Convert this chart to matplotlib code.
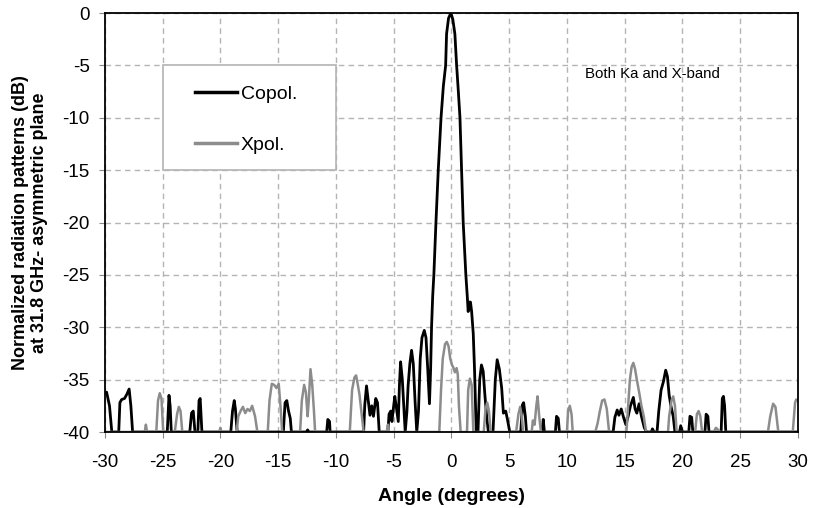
import matplotlib
matplotlib.use("Agg")
import matplotlib.pyplot as plt
import matplotlib.patches as patches

plt.rcParams['font.family'] = ['Liberation Sans', 'DejaVu Sans']
plt.rcParams['axes.unicode_minus'] = False

# Copol. pattern (angle in degrees, level in dB)
copol_angle = [
    -30.0, -29.85, -29.6, -29.4,
    -28.8, -28.7, -28.55, -28.3, -28.1, -27.9, -27.75, -27.6,
    -24.6, -24.45, -24.35, -24.25,
    -22.65, -22.5, -22.35, -22.2, -21.95, -21.85, -21.75, -21.6,
    -19.1, -18.95, -18.8, -18.7, -18.55,
    -14.55, -14.4, -14.25, -14.1, -13.95, -13.85,
    -12.55, -12.45, -12.35,
    -10.8, -10.7, -10.55, -10.5,
    -7.6, -7.5, -7.35, -7.2, -7.05, -6.9, -6.75, -6.55, -6.4, -6.25,
    -5.5, -5.4, -5.25, -5.15, -5.0, -4.9, -4.75, -4.6, -4.5, -4.4, -4.25, -4.1, -4.0,
    -3.85, -3.75, -3.6, -3.45, -3.3, -3.15, -3.0,
    -2.85, -2.7, -2.55, -2.35, -2.2, -2.05, -1.9, -1.8, -1.72, -1.62, -1.52,
    -1.34, -1.14, -0.9, -0.7, -0.5, -0.42, -0.25, -0.05, 0.12, 0.3, 0.45, 0.6,
    0.74, 0.88, 1.02, 1.25, 1.37, 1.45, 1.55, 1.65, 1.75, 1.89, 2.0, 2.15,
    2.3, 2.45, 2.6, 2.75, 2.9, 3.05, 3.2,
    3.6, 3.8, 3.96, 4.15, 4.35, 4.5, 4.7, 4.85, 5.05,
    6.0, 6.15, 6.25, 6.4, 6.5,
    7.85, 7.95, 8.05,
    9.0, 9.1, 9.25, 9.35,
    14.0, 14.15, 14.35, 14.5, 14.7, 14.9, 15.1, 15.3, 15.5, 15.75, 15.9, 16.05,
    16.25, 16.45, 16.7, 16.9,
    17.3, 17.4, 17.55,
    17.8, 17.95, 18.15, 18.35, 18.55, 18.7, 18.85, 19.0, 19.2, 19.35,
    19.75, 19.85, 20.0,
    20.55, 20.65, 20.8, 20.9,
    21.95, 22.05, 22.2, 22.3,
    23.35, 23.45, 23.55, 23.65, 23.75,
    30.0,
]
copol_db = [
    -36.3, -36.2, -37.5, -40,
    -40, -37.2, -36.9, -36.8, -36.4, -35.9, -37.5, -40,
    -40, -36.5, -37.5, -40,
    -40, -38.2, -38.0, -40, -40, -37.0, -36.8, -40,
    -40, -38.0, -37.0, -37.8, -40,
    -40, -37.2, -37.0, -38.0, -38.7, -40,
    -40, -39.8, -40,
    -40, -38.8, -39.0, -40,
    -40, -37.4, -35.6, -37.0, -38.4, -37.5, -38.5, -36.8, -37.2, -40,
    -40, -38.3, -38.0, -39.0, -37.5, -36.6, -37.8, -39.0, -35.5, -33.3, -35.0, -38.0, -40,
    -38.0, -35.6, -33.5, -32.2, -33.5, -37.0, -40,
    -38.0, -33.0, -31.0, -30.3, -31.0, -34.0, -37.3, -34.0, -30.0, -27.0, -25.0,
    -20.0, -15.0, -10.0, -7.0, -5.0, -2.0, -0.5, 0.0, -0.6, -2.0, -5.0, -7.5,
    -10.0, -15.0, -20.0, -25.0, -27.0, -28.5, -27.6, -27.6, -28.5, -30.6, -34.0, -40,
    -40, -35.0, -33.6, -34.2, -36.5, -38.5, -40,
    -40, -35.0, -33.1, -34.0, -35.8, -38.2, -38.0, -38.8, -40,
    -40, -37.4, -37.2, -38.5, -40,
    -40, -38.8, -40,
    -40, -38.5, -38.7, -40,
    -40, -38.6, -37.9, -38.4, -37.8, -38.6, -39.3, -38.5, -37.5, -36.7, -37.8, -38.2,
    -37.3, -38.5, -39.6, -40,
    -40, -39.7, -40,
    -40, -38.0, -36.0, -35.2, -34.1, -34.7, -36.5, -37.5, -38.5, -40,
    -40, -39.4, -40,
    -40, -38.5, -38.6, -40,
    -40, -38.3, -38.5, -40,
    -40, -36.8, -36.6, -37.5, -40,
    -40,
]

# Xpol. pattern
xpol_angle = [
    -30.0,
    -26.55, -26.45, -26.35,
    -25.55, -25.4, -25.25, -25.1, -24.95,
    -23.95, -23.75, -23.6, -23.45, -23.3,
    -20.1, -20.0, -19.9,
    -18.6, -18.45, -18.25, -18.05, -17.85, -17.65, -17.45, -17.25, -17.0, -16.8,
    -15.9, -15.75, -15.55, -15.35, -15.15, -14.95, -14.8, -14.65,
    -13.1, -12.95, -12.75, -12.6, -12.45, -12.35, -12.2, -12.05, -11.9, -11.8,
    -8.8, -8.6, -8.4, -8.25, -8.1, -7.95, -7.8, -7.6,
    -5.6, -5.5, -5.4,
    -1.05, -0.9, -0.75, -0.55, -0.4, -0.25, -0.1, 0.05, 0.15, 0.3, 0.45, 0.55, 0.65, 0.8,
    1.35, 1.45, 1.6, 1.75, 1.9,
    2.8, 2.95, 3.1, 3.25, 3.4,
    5.6, 5.8, 5.95, 6.1, 6.2,
    6.95, 7.05, 7.2, 7.35, 7.46, 7.6, 7.75,
    10.0, 10.1, 10.25, 10.4, 10.5,
    12.45, 12.65, 12.85, 13.05, 13.25, 13.45, 13.65,
    15.15, 15.3, 15.45, 15.6, 15.75, 15.9, 16.05, 16.25, 16.45, 16.65, 16.85,
    18.75, 18.85, 19.05, 19.2, 19.35, 19.5,
    21.1, 21.25, 21.4, 21.55, 21.7,
    22.7, 22.9, 23.1, 23.25,
    27.4, 27.6, 27.85, 28.05, 28.3,
    29.55, 29.75, 29.85, 30.0,
]
xpol_db = [
    -40,
    -40, -39.3, -40,
    -40, -37.0, -36.3, -36.8, -40,
    -40, -38.3, -37.6, -38.0, -40,
    -40, -39.6, -40,
    -40, -38.5, -38.0, -37.6, -38.2, -37.8, -38.0, -37.5, -38.5, -40,
    -40, -37.0, -35.4, -35.5, -35.8, -35.4, -37.5, -40,
    -40, -37.0, -35.5, -36.2, -38.5, -37.0, -34.0, -35.5, -38.0, -40,
    -40, -36.0, -34.8, -34.6, -35.5, -36.5, -38.0, -40,
    -40, -39.3, -40,
    -40, -36.0, -33.0, -31.6, -31.4, -31.8, -33.0, -33.6, -33.8, -34.3, -33.9, -34.5, -37.5, -40,
    -40, -36.0, -34.9, -35.5, -40,
    -40, -37.8, -37.2, -38.0, -40,
    -40, -38.3, -37.6, -38.5, -40,
    -40, -38.9, -39.3, -37.5, -36.6, -38.5, -40,
    -40, -38.0, -37.5, -38.3, -40,
    -40, -39.2, -38.0, -37.0, -36.9, -37.8, -40,
    -40, -37.5, -35.0, -33.8, -33.4, -34.0, -35.0, -36.2, -37.5, -38.5, -40,
    -40, -38.5, -37.0, -36.6, -37.5, -40,
    -40, -38.3, -38.0, -38.5, -40,
    -40, -39.6, -39.8, -40,
    -40, -38.5, -37.3, -37.6, -40,
    -40, -37.2, -36.9, -37.0,
]

x_ticks = list(range(-30, 31, 5))
y_ticks = list(range(-40, 1, 5))

fig = plt.figure(figsize=(8.13, 5.08), dpi=100)
ax = fig.add_axes([0.129, 0.1496, 0.8525, 0.8248])

ax.plot(copol_angle, copol_db, color='black', lw=2.0, label='Copol.', zorder=3)
ax.plot(xpol_angle, xpol_db, color='#8c8c8c', lw=1.8, label='Xpol.', zorder=4)

ax.set_xlim(-30, 30)
ax.set_ylim(-40, 0)
ax.set_xticks(x_ticks)
ax.set_yticks(y_ticks)
ax.tick_params(labelsize=13.5, length=4, color='#888888')
ax.tick_params(axis='x', pad=12)
ax.tick_params(axis='y', pad=7)
ax.grid(True, color='#b4b4b4', linestyle=(0, (4, 3)), lw=1.0)
for sp in ax.spines.values():
    sp.set_color('black')
    sp.set_linewidth(1.3)
    sp.set_zorder(5)

ax.set_xlabel('Angle (degrees)', fontsize=14, fontweight='bold', labelpad=12)
ax.set_ylabel('Normalized radiation patterns (dB)\nat 31.8 GHz- asymmetric plane',
              fontsize=13, fontweight='bold', labelpad=10, linespacing=1.15)

# legend frame sits on the grid cell from -25 to -10 deg, -15 to -5 dB
frame = patches.Rectangle((-25, -15), 15, 10, facecolor='white',
                          edgecolor='#b4b4b4', lw=1.2, zorder=6)
ax.add_patch(frame)
leg = ax.legend(loc='center left', bbox_to_anchor=(0.130, 0.7458),
                frameon=False, fontsize=14, handlelength=2.15,
                handletextpad=0.2, labelspacing=1.75, borderpad=0,
                borderaxespad=0)
leg.set_zorder(7)
for h in leg.get_lines():
    h.set_linewidth(2.5)

ax.text(11.55, -5.85, 'Both Ka and X-band', fontsize=10.8, va='center', ha='left')

fig.savefig('out.png', dpi=100)
